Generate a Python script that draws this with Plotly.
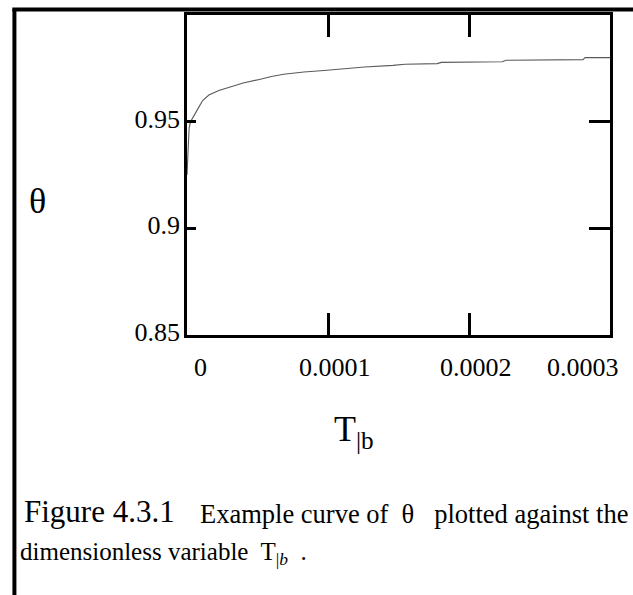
import plotly.graph_objects as go

# ---- data ----
t_b = [0.0, 5e-7, 1.0e-6, 1.5e-6, 2.5e-6, 5.4e-6, 8.3e-6, 1.11e-5, 1.55e-5, 2.26e-5,
       3.12e-5, 3.98e-5, 5.13e-5, 5.99e-5, 6.85e-5, 8.29e-5, 9.72e-5, 1.058e-4,
       1.202e-4, 1.259e-4, 1.46e-4, 1.546e-4, 1.775e-4, 1.804e-4, 2.235e-4,
       2.263e-4, 2.809e-4, 2.823e-4, 3.0e-4]
theta = [0.925, 0.935, 0.942, 0.947, 0.950, 0.9536, 0.9567, 0.9599, 0.9625, 0.9646,
         0.9665, 0.9681, 0.9698, 0.9712, 0.9722, 0.9733, 0.9740, 0.9745,
         0.9751, 0.9756, 0.9764, 0.9769, 0.9772, 0.9778, 0.9781,
         0.9788, 0.9791, 0.9800, 0.9800]

x_tick_vals = [0.0, 0.0001, 0.0002, 0.0003]
x_tick_text = ["0", "0.0001", "0.0002", "0.0003"]
x_label_shift = [13, 7, 7, -27]
y_tick_vals = [0.85, 0.9, 0.95]
y_tick_text = ["0.85", "0.9", "0.95"]
y_mark_vals = [0.9, 0.95]

x_range = [0.0, 0.0003]
y_range = [0.85, 1.0]

FONT = "Liberation Serif"

fig = go.Figure()
fig.add_trace(go.Scatter(x=t_b, y=theta, mode="lines",
                         line=dict(color="#5a5a5a", width=1.1),
                         showlegend=False, hoverinfo="skip"))
# same series bound to the right-hand axis so its tick marks are drawn
fig.add_trace(go.Scatter(x=t_b, y=theta, mode="lines", yaxis="y2",
                         line=dict(color="rgba(0,0,0,0)", width=0),
                         showlegend=False, hoverinfo="skip"))

fig.update_layout(
    width=633, height=595, autosize=False,
    margin=dict(l=187, r=23, t=15, b=260, pad=0),
    paper_bgcolor="white", plot_bgcolor="white",
    font=dict(family=FONT, color="black", size=26),
    showlegend=False,
    xaxis=dict(range=x_range, showgrid=False, zeroline=False,
               showline=True, linecolor="black", linewidth=2.5, mirror="ticks",
               ticks="inside", ticklen=22, tickwidth=2.5, tickcolor="black",
               tickvals=x_tick_vals[1:3], showticklabels=False),
    yaxis=dict(range=y_range, showgrid=False, zeroline=False,
               showline=True, linecolor="black", linewidth=2.5, mirror=True,
               ticks="inside", ticklen=9, tickwidth=2.5, tickcolor="black",
               tickvals=y_tick_vals, ticktext=y_tick_text,
               tickfont=dict(family=FONT, size=26, color="black"),
               ticklabelstandoff=-1, ticklabelshift=-3),
    yaxis2=dict(range=y_range, overlaying="y", side="right", showgrid=False,
                zeroline=False, showline=False, ticks="inside", ticklen=21,
                tickwidth=2.5, tickcolor="black", tickvals=y_mark_vals,
                showticklabels=False),
)

# x tick labels (placed on the x scale, nudged like the original)
for v, txt, sh in zip(x_tick_vals, x_tick_text, x_label_shift):
    fig.add_annotation(x=v, xref="x", y=0, yref="paper", text=txt,
                       showarrow=False, xanchor="center", yanchor="middle",
                       xshift=sh, yshift=-32,
                       font=dict(family=FONT, size=26, color="black"))

# axis titles
fig.add_annotation(x=-0.3528, y=0.42, xref="paper", yref="paper", text="θ",
                   showarrow=False, xanchor="center", yanchor="middle",
                   font=dict(family=FONT, size=36, color="black"))
fig.add_annotation(x=0.3433, y=-0.30, xref="paper", yref="paper",
                   text="T<sub>|b</sub>", showarrow=False,
                   xanchor="left", yanchor="middle",
                   font=dict(family=FONT, size=36, color="black"))

# caption
fig.add_annotation(x=-0.389, y=-0.553, xref="paper", yref="paper",
                   text="Figure 4.3.1", showarrow=False,
                   xanchor="left", yanchor="middle",
                   font=dict(family=FONT, size=31, color="black"))
fig.add_annotation(x=0.0267, y=-0.559, xref="paper", yref="paper",
                   text="Example curve of  θ   plotted against the",
                   showarrow=False, xanchor="left", yanchor="middle",
                   font=dict(family=FONT, size=26.5, color="black"))
fig.add_annotation(x=-0.3986, y=-0.682, xref="paper", yref="paper",
                   text="dimensionless variable  T<sub>|<i>b</i></sub>  .",
                   showarrow=False, xanchor="left", yanchor="middle",
                   font=dict(family=FONT, size=25, color="black"))

# page frame lines (left rule and top rule)
fig.add_shape(type="line", xref="paper", yref="paper",
              x0=-0.408, x1=-0.408, y0=1.0172, y1=-0.82,
              line=dict(color="black", width=4))
fig.add_shape(type="line", xref="paper", yref="paper",
              x0=-0.413, x1=1.06, y0=1.0172, y1=1.0172,
              line=dict(color="black", width=4))

fig.write_html("out.html")
